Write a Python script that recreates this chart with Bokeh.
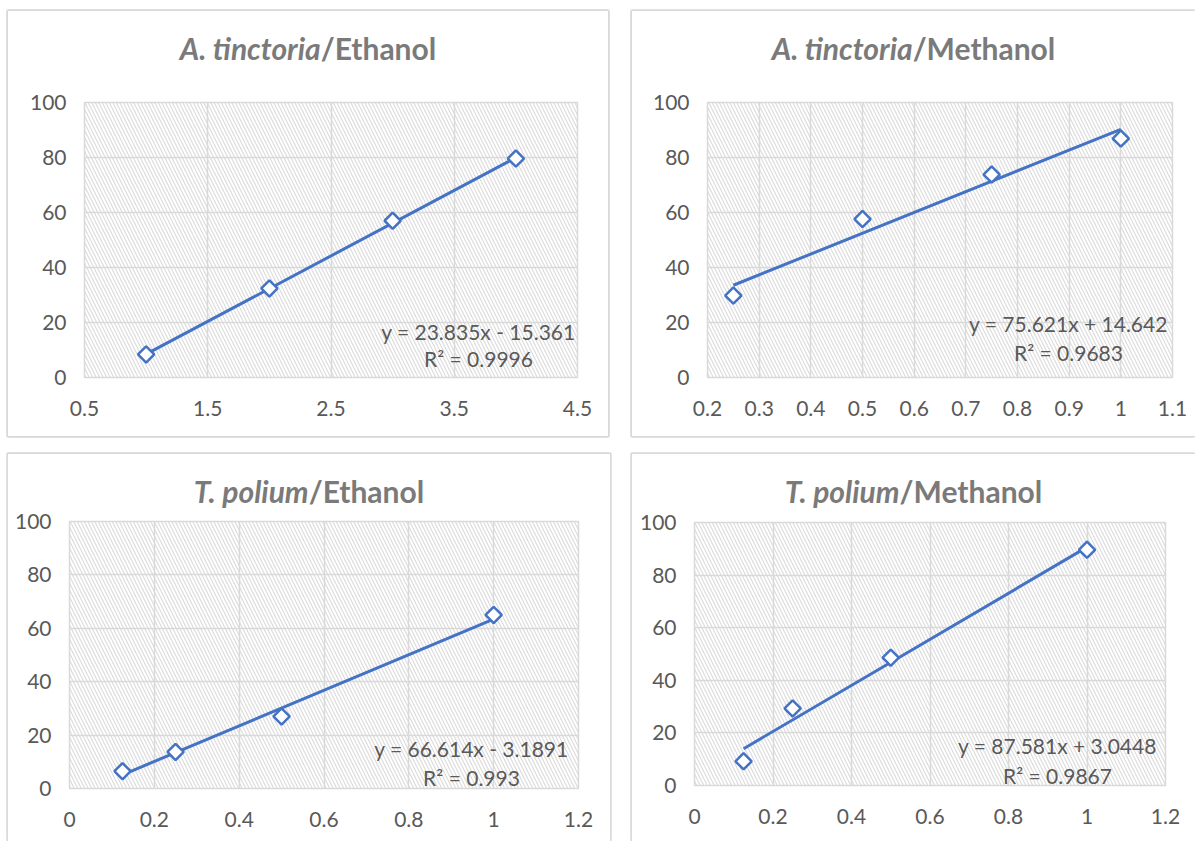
import numpy as np
from bokeh.plotting import figure
from bokeh.models import Range1d, FixedTicker, NumeralTickFormatter, Label, BoxAnnotation, Div, Spacer
from bokeh.layouts import row, column
from bokeh.embed import file_html
from bokeh.resources import INLINE

# ---------------- data ----------------
tl_x = [1, 2, 3, 4]
tl_y = [8.4, 32.4, 57.0, 79.6]
tr_x = [0.25, 0.5, 0.75, 1.0]
tr_y = [29.8, 57.6, 73.8, 86.9]
bl_x = [0.125, 0.25, 0.5, 1.0]
bl_y = [6.5, 13.7, 27.0, 65.0]
br_x = [0.125, 0.25, 0.5, 1.0]
br_y = [9.2, 29.3, 48.6, 89.6]

species = ["A. tinctoria", "A. tinctoria", "T. polium", "T. polium"]
solvents = ["/Ethanol", "/Methanol", "/Ethanol", "/Methanol"]
slopes = [23.835, 75.621, 66.614, 87.581]
intercepts = [-15.361, 14.642, -3.1891, 3.0448]
eq_labels = ["y = 23.835x - 15.361", "y = 75.621x + 14.642",
             "y = 66.614x - 3.1891", "y = 87.581x + 3.0448"]
r2_labels = ["R\u00b2 = 0.9996", "R\u00b2 = 0.9683", "R\u00b2 = 0.993", "R\u00b2 = 0.9867"]

x_ticks_tl = [0.5, 1.5, 2.5, 3.5, 4.5]
x_ticks_tr = [0.2, 0.3, 0.4, 0.5, 0.6, 0.7, 0.8, 0.9, 1.0, 1.1]
x_ticks_bl = [0, 0.2, 0.4, 0.6, 0.8, 1.0, 1.2]
x_ticks_br = [0, 0.2, 0.4, 0.6, 0.8, 1.0, 1.2]
y_ticks = [0, 20, 40, 60, 80, 100]

xs = [tl_x, tr_x, bl_x, br_x]
ys = [tl_y, tr_y, bl_y, br_y]
x_ticks = [x_ticks_tl, x_ticks_tr, x_ticks_bl, x_ticks_br]

# ---------------- layout (page pixels) ----------------
geo = [
    dict(origin=(8, 11), size=(600, 425), div_h=62, frame=(84, 577, 102, 377),
         eq=(478, 331, 358), sides="ltrb"),
    dict(origin=(632, 11), size=(563, 425), div_h=62, frame=(707, 1172, 102, 377),
         eq=(1068, 323, 352), sides="ltb"),
    dict(origin=(8, 454), size=(602, 387), div_h=46, frame=(69, 578, 521, 788),
         eq=(471, 748, 777), sides="ltr"),
    dict(origin=(632, 454), size=(563, 387), div_h=46, frame=(694, 1165, 522, 785),
         eq=(1057, 745, 775), sides="lt"),
]
TITLE_BASELINE = 49  # px below chart top
TITLE_SIZE = 30

BLUE = "#4472C4"
GRID = "#d9d9d9"
TXT = "#595959"
TITLE = "#7a7a7a"
FONT = "Lato"
BW = "1.5px"

charts = []
for i in range(4):
    g = geo[i]
    ox, oy = g["origin"]
    w, h = g["size"]
    dh = g["div_h"]
    fl, fr, ft, fb = g["frame"]
    x0, x1 = x_ticks[i][0], x_ticks[i][-1]
    y0, y1 = y_ticks[0], y_ticks[-1]
    fig_top = oy + dh
    fig_h = h - dh

    def to_data(px, py):
        dx = x0 + (px - fl) / (fr - fl) * (x1 - x0)
        dy = y0 + (fb - py) / (fb - ft) * (y1 - y0)
        return dx, dy

    p = figure(width=w, height=fig_h, x_range=Range1d(x0, x1), y_range=Range1d(y0, y1),
               output_backend="svg", toolbar_location=None,
               min_border_left=fl - ox, min_border_right=ox + w - fr,
               min_border_top=ft - fig_top, min_border_bottom=fig_top + fig_h - fb,
               background_fill_color="white", border_fill_color=None,
               outline_line_color=GRID, outline_line_width=1.5)

    # hatched plot area
    p.add_layout(BoxAnnotation(fill_alpha=0, line_color=None, hatch_pattern="\\",
                               hatch_color="#dadada", hatch_scale=7, hatch_weight=1.1,
                               level="image"))

    for ax, ticks in ((p.xaxis, x_ticks[i]), (p.yaxis, y_ticks)):
        ax.ticker = FixedTicker(ticks=ticks)
        ax.formatter = NumeralTickFormatter(format="0.[0]")
        ax.axis_line_color = None
        ax.major_tick_line_color = None
        ax.minor_tick_line_color = None
        ax.major_label_text_font = FONT
        ax.major_label_text_font_size = "21px"
        ax.major_label_text_color = TXT
    p.xaxis.major_label_standoff = 17
    p.yaxis.major_label_standoff = 12

    p.xgrid.grid_line_color = GRID
    p.ygrid.grid_line_color = GRID
    p.xgrid.grid_line_width = 1.5
    p.ygrid.grid_line_width = 1.5

    # trendline (from the printed equation, over the range of the data)
    lx = np.array([min(xs[i]), max(xs[i])])
    ly = slopes[i] * lx + intercepts[i]
    p.line(lx, ly, line_color=BLUE, line_width=3)

    # markers (diamonds)
    p.scatter(xs[i], ys[i], marker="square", angle=np.pi / 4, size=11.5,
              line_color=BLUE, line_width=2.5, fill_color="white")

    # equation
    ex, ey1, ey2 = g["eq"]
    dx, dy1 = to_data(ex, ey1)
    _, dy2 = to_data(ex, ey2)
    for txt, yy in ((eq_labels[i], dy1), (r2_labels[i], dy2)):
        p.add_layout(Label(x=dx, y=yy, text=txt, text_align="center",
                           text_baseline="middle", text_font=FONT,
                           text_font_size="21px", text_color=TXT))

    # title
    pad = TITLE_BASELINE - round(0.887 * TITLE_SIZE)
    html = ('<div style="padding-top:%dpx;text-align:center;font-family:Lato;'
            'font-weight:bold;font-size:%dpx;line-height:%dpx;color:%s;'
            'white-space:nowrap;width:%dpx"><i>%s</i>%s</div>'
            % (pad, TITLE_SIZE, TITLE_SIZE, TITLE, w, species[i], solvents[i]))
    title = Div(text=html, width=w, height=dh, margin=0,
                styles={"overflow": "visible"})

    shadows = []
    if "l" in g["sides"]:
        shadows.append("-%s 0 0 0 %s" % (BW, GRID))
    if "t" in g["sides"]:
        shadows.append("0 -%s 0 0 %s" % (BW, GRID))
        if "l" in g["sides"]:
            shadows.append("-%s -%s 0 0 %s" % (BW, BW, GRID))
        if "r" in g["sides"]:
            shadows.append("%s -%s 0 0 %s" % (BW, BW, GRID))
    if "r" in g["sides"]:
        shadows.append("%s 0 0 0 %s" % (BW, GRID))
    if "b" in g["sides"]:
        shadows.append("0 %s 0 0 %s" % (BW, GRID))
        if "l" in g["sides"]:
            shadows.append("-%s %s 0 0 %s" % (BW, BW, GRID))
        if "r" in g["sides"]:
            shadows.append("%s %s 0 0 %s" % (BW, BW, GRID))
    chart = column(title, p, spacing=0,
                   styles={"box-shadow": ", ".join(shadows), "background-color": "white"})
    charts.append(chart)

row1 = row(Spacer(width=geo[0]["origin"][0]), charts[0],
           Spacer(width=geo[1]["origin"][0] - geo[0]["origin"][0] - geo[0]["size"][0]),
           charts[1], spacing=0)
row2 = row(Spacer(width=geo[2]["origin"][0]), charts[2],
           Spacer(width=geo[3]["origin"][0] - geo[2]["origin"][0] - geo[2]["size"][0]),
           charts[3], spacing=0)
gap = geo[2]["origin"][1] - geo[0]["origin"][1] - geo[0]["size"][1]
layout = column(Spacer(height=geo[0]["origin"][1]), row1, Spacer(height=gap), row2, spacing=0)

open("out.html", "w").write(file_html(layout, INLINE))
